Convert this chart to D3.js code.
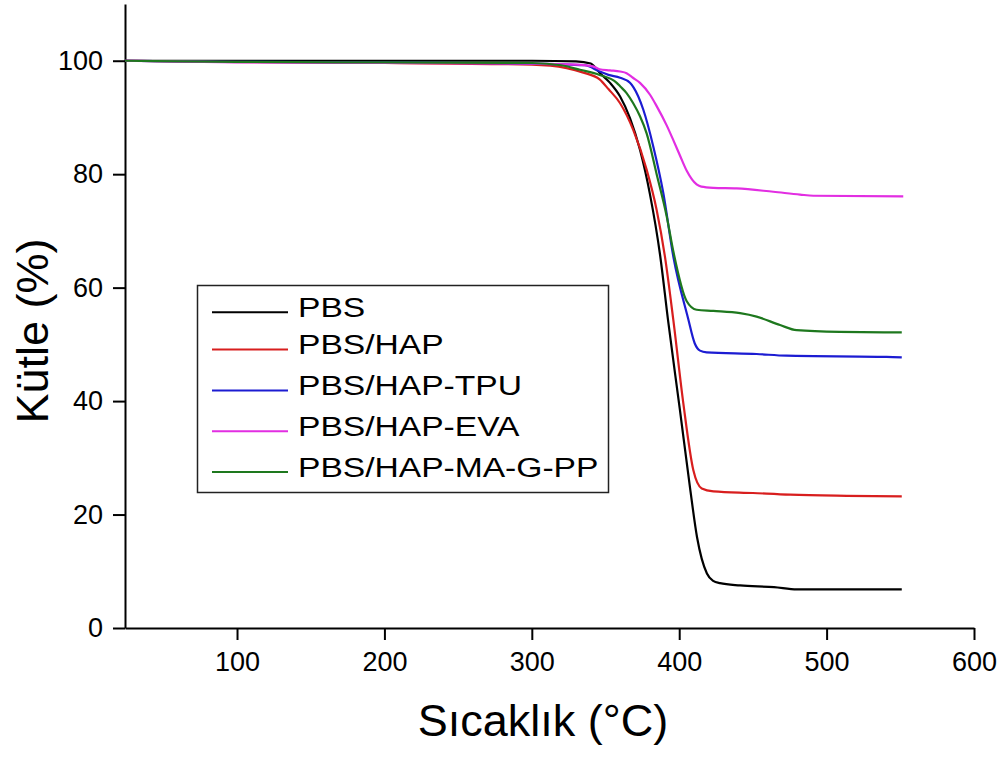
<!DOCTYPE html>
<html>
<head>
<meta charset="utf-8">
<script src="https://cdn.jsdelivr.net/npm/d3@7/dist/d3.min.js"></script>
<style>
  html, body { margin: 0; padding: 0; background: #ffffff; }
  svg { display: block; }
  text { font-family: "Liberation Sans", Arial, Helvetica, sans-serif; fill: #000; }
</style>
</head>
<body>
<svg id="chart" width="1008" height="760"></svg>
<script>
// ---- data ----
const seriesNames = ["PBS", "PBS/HAP", "PBS/HAP-TPU", "PBS/HAP-EVA", "PBS/HAP-MA-G-PP"];
const seriesColors = ["#000000", "#d81e1e", "#1c1cd2", "#e22ee2", "#1e781e"];

const pbsTemp = [24,100,200,300,330,340,346.3,353.1,359.9,366.6,373.4,380.2,387.0,392.4,400.5,407.3,412.1,418.8,423,427.7,441.3,464.3,479.9,551];
const pbsMass = [100,100,100,100,99.9,99.5,97.8,96.1,93.7,89.9,84.3,76.4,65.8,54.3,38.4,24.8,16.0,9.6,8.3,7.9,7.5,7.2,6.8,6.8];

const hapTemp = [24,90,200,300,323.6,335,346,352,359.9,368.8,377.9,384.7,390.3,396,402.8,409.6,415.3,423.2,450,475.2,513.7,551];
const hapMass = [100,99.8,99.6,99.3,98.7,97.9,96.7,95,92.5,87.8,80.8,73.7,65.5,54.3,39.6,27.8,24.6,24.1,23.8,23.5,23.3,23.2];

const tpuTemp = [24,100,200,300,336,346,352,359.9,366.6,369,375.6,382.4,389.2,396,406,410.5,414.1,418.6,452.5,472.8,540.7,551];
const tpuMass = [100,99.8,99.7,99.5,99.2,98.1,97.5,97.0,96.1,95.3,91.4,84.9,76.7,65.5,54.6,50.2,48.9,48.6,48.3,48.0,47.8,47.7];

const evaTemp = [24,100,200,300,330,341.5,346,353,359.9,364.3,368.6,373.4,380.2,384.7,391.5,396,400.5,405.1,411.8,415,423.2,439,463.8,482,491,552];
const evaMass = [100,99.7,99.6,99.5,99.3,99.0,98.5,98.3,98.1,97.8,97.0,96.1,94.0,92.0,88.6,86.0,83.3,80.6,78.2,77.8,77.6,77.5,76.9,76.4,76.2,76.1];

const mapTemp = [24,100,200,300,320,332.7,346,357.6,359.9,364.3,368.8,373.4,377.9,384.7,391.5,396,405.1,411.8,423.2,441.3,452.5,468.4,479.7,508.8,551];
const mapMass = [100,99.8,99.7,99.6,99.2,98.4,97.5,96.1,95.5,94.3,92.5,90.2,87.2,80.0,72.6,66.4,57.6,56.1,55.9,55.5,54.9,53.4,52.5,52.2,52.1];

const xTicks = [100, 200, 300, 400, 500, 600];
const yTicks = [0, 20, 40, 60, 80, 100];
const xTitle = "Sıcaklık (°C)";
const yTitle = "Kütle (%)";

const temps = [pbsTemp, hapTemp, tpuTemp, evaTemp, mapTemp];
const masses = [pbsMass, hapMass, tpuMass, evaMass, mapMass];

// ---- layout ----
const svg = d3.select("#chart");
const plotLeft = 125, plotRight = 974, plotTop = 4, plotBottom = 628;

const x = d3.scaleLinear().domain([24, 600]).range([plotLeft, plotRight]);
const y = d3.scaleLinear().domain([0, 110]).range([plotBottom, plotTop]);

// axes
const xAxis = svg.append("g")
  .attr("transform", `translate(0,${plotBottom})`)
  .call(d3.axisBottom(x).tickValues(xTicks).tickSize(12).tickPadding(12).tickSizeOuter(0));
const yAxis = svg.append("g")
  .attr("transform", `translate(${plotLeft},0)`)
  .call(d3.axisLeft(y).tickValues(yTicks).tickSize(12).tickPadding(10).tickSizeOuter(0));

[xAxis, yAxis].forEach(g => {
  g.select(".domain").attr("stroke", "#000").attr("stroke-width", 2);
  g.selectAll(".tick line").attr("stroke", "#000").attr("stroke-width", 2);
  g.selectAll(".tick text")
    .attr("font-size", 27)
    .attr("font-family", "'Liberation Sans', Arial, sans-serif")
    .attr("fill", "#000");
});

// lines
const line = d3.line()
  .x(d => x(d[0]))
  .y(d => y(d[1]))
  .curve(d3.curveMonotoneX);

seriesNames.forEach((name, i) => {
  const pts = temps[i].map((t, j) => [t, masses[i][j]]);
  svg.append("path")
    .datum(pts)
    .attr("fill", "none")
    .attr("stroke", seriesColors[i])
    .attr("stroke-width", 2.2)
    .attr("stroke-linejoin", "round")
    .attr("d", line);
});

// legend
const lg = svg.append("g");
lg.append("rect")
  .attr("x", 197.5).attr("y", 285.5)
  .attr("width", 411).attr("height", 207)
  .attr("fill", "#fff").attr("stroke", "#222").attr("stroke-width", 1.5);

const rowBase = [316.7, 354, 395, 435.7, 476.5];
seriesNames.forEach((name, i) => {
  const b = rowBase[i];
  lg.append("line")
    .attr("x1", 212).attr("x2", 288)
    .attr("y1", b - 4.5).attr("y2", b - 4.5)
    .attr("stroke", seriesColors[i]).attr("stroke-width", 2);
  lg.append("text")
    .attr("transform", `translate(298,${b}) scale(1.2,1)`)
    .attr("font-size", 28)
    .text(name);
});

// axis titles
svg.append("text")
  .attr("x", 543).attr("y", 736)
  .attr("text-anchor", "middle")
  .attr("font-size", 45)
  .text(xTitle);

svg.append("text")
  .attr("transform", `translate(48,331) rotate(-90)`)
  .attr("text-anchor", "middle")
  .attr("font-size", 45)
  .text(yTitle);
</script>
</body>
</html>
